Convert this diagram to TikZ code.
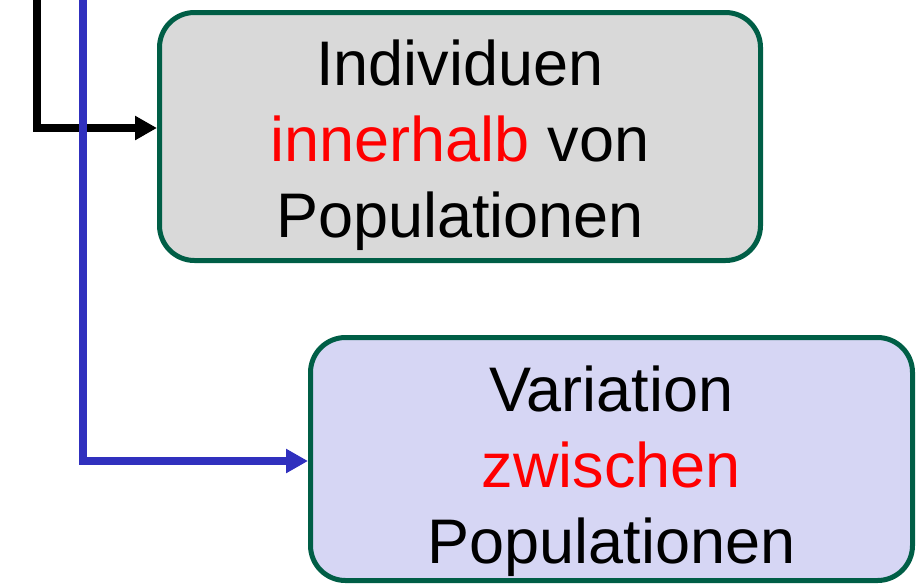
\documentclass[tikz,border=0pt]{standalone}
\usepackage{fontspec}
\setmainfont{Liberation Sans}
\usetikzlibrary{arrows.meta,calc}
\definecolor{boxgreen}{HTML}{005E46}
\definecolor{greyfill}{HTML}{D9D9D9}
\definecolor{bluefill}{HTML}{D6D6F4}
\definecolor{lineblue}{HTML}{3030BE}
\definecolor{wordred}{HTML}{FF0000}
\tikzset{
  panel/.style={draw=boxgreen, line width=5pt, rounded corners=35pt, inner sep=0pt},
  paneltext/.style={align=center, inner sep=0pt, font=\fontsize{63}{76}\selectfont},
  conn/.style={line width=8pt, line join=miter, -{Triangle[length=22pt,width=23pt]}}
}
\begin{document}
\begin{tikzpicture}[x=1pt,y=-1pt]
\useasboundingbox (0,0) rectangle (923,584);
\node[panel, fill=greyfill, minimum width=601pt, minimum height=248pt] (b1) at (460,136.5) {};
\node[paneltext] (t1) at ($(b1.center)+(0,9)$) {Individuen\\\textcolor{wordred}{innerhalb} von\\Populationen};
\node[panel, fill=bluefill, minimum width=602pt, minimum height=243pt] (b2) at (611.5,459) {};
\node[paneltext] (t2) at ($(b2.center)+(0,12)$) {Variation\\\textcolor{wordred}{zwischen}\\Populationen};
\coordinate (k0) at (37,-10);
\coordinate (kc) at (37,128);
\coordinate (u0) at (83,-10);
\coordinate (uc) at (83,461);
\draw[conn, black] (k0) -- (kc) -- (kc -| b1.west);
\draw[conn, lineblue] (u0) -- (uc) -- (uc -| b2.west);
\end{tikzpicture}
\end{document}
